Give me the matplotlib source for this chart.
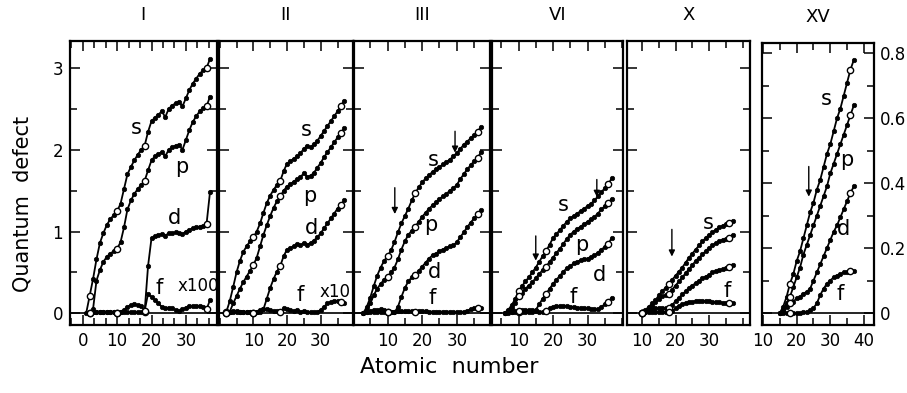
import matplotlib.pyplot as plt
from matplotlib.ticker import MultipleLocator, FixedLocator

# quantum defects vs atomic number Z; each series starts at the Z given by *_z0
# panel I (neutral), f is x100
I_s_z0 = 1
I_s = [0.00, 0.21, 0.42, 0.66, 0.86, 0.98, 1.08, 1.15, 1.20, 1.25, 1.34, 1.52, 1.70, 1.79,
       1.87, 1.94, 2.00, 2.05, 2.22, 2.35, 2.39, 2.43, 2.47, 2.40, 2.50, 2.54, 2.57, 2.59,
       2.53, 2.63, 2.73, 2.81, 2.87, 2.93, 2.97, 3.00, 3.11]
I_p_z0 = 3
I_p = [0.05, 0.40, 0.53, 0.63, 0.69, 0.73, 0.76, 0.79, 0.87, 1.05, 1.27, 1.38, 1.46, 1.52,
       1.57, 1.62, 1.75, 1.87, 1.92, 1.95, 1.97, 1.92, 2.00, 2.03, 2.05, 2.06, 2.00, 2.12,
       2.24, 2.34, 2.41, 2.47, 2.51, 2.53, 2.65]
I_d_z0 = 2
I_d = [0.00, 0.01, 0.01, 0.01, 0.01, 0.01, 0.01, 0.01, 0.00, 0.01, 0.01, 0.01, 0.01, 0.01,
       0.01, 0.01, 0.02, 0.58, 0.92, 0.94, 0.96, 0.97, 0.95, 0.98, 0.98, 0.99, 0.98, 0.97,
       1.00, 1.02, 1.04, 1.05, 1.06, 1.07, 1.09, 1.48]
I_f_z0 = 2
I_f = [0.00, 0.02, 0.02, 0.02, 0.02, 0.02, 0.01, 0.01, 0.00, 0.01, 0.04, 0.08, 0.10, 0.11,
       0.10, 0.09, 0.03, 0.24, 0.20, 0.16, 0.12, 0.08, 0.06, 0.07, 0.06, 0.04, 0.03, 0.05,
       0.07, 0.09, 0.09, 0.09, 0.09, 0.08, 0.05, 0.16]

# panel II, f is x10
II_s_z0 = 2
II_s = [0.02, 0.15, 0.32, 0.50, 0.64, 0.75, 0.82, 0.88, 0.93, 1.00, 1.10, 1.23, 1.35, 1.44,
        1.51, 1.57, 1.62, 1.74, 1.83, 1.86, 1.89, 1.92, 1.96, 2.01, 2.05, 2.03, 2.07, 2.11,
        2.17, 2.23, 2.29, 2.35, 2.41, 2.47, 2.54, 2.60]
II_p_z0 = 3
II_p = [0.02, 0.12, 0.21, 0.30, 0.38, 0.45, 0.52, 0.59, 0.68, 0.82, 0.96, 1.08, 1.19, 1.29,
        1.37, 1.43, 1.50, 1.55, 1.58, 1.61, 1.64, 1.67, 1.71, 1.67, 1.68, 1.72, 1.78, 1.84,
        1.91, 1.97, 2.03, 2.09, 2.15, 2.21, 2.26]
II_d_z0 = 2
II_d = [0.00, 0.01, 0.01, 0.01, 0.01, 0.01, 0.01, 0.01, 0.00, 0.01, 0.01, 0.05, 0.18, 0.31,
        0.42, 0.51, 0.58, 0.70, 0.78, 0.80, 0.82, 0.85, 0.83, 0.86, 0.84, 0.86, 0.89, 0.93,
        0.98, 1.04, 1.10, 1.16, 1.22, 1.28, 1.33, 1.38]
II_f_z0 = 2
II_f = [0.00, 0.02, 0.03, 0.03, 0.02, 0.02, 0.01, 0.01, 0.00, 0.02, 0.04, 0.05, 0.05, 0.04,
        0.03, 0.03, 0.02, 0.06, 0.05, 0.04, 0.03, 0.04, 0.02, 0.03, 0.02, 0.01, 0.01, 0.02,
        0.04, 0.08, 0.12, 0.14, 0.15, 0.15, 0.14, 0.13]

# panel III
III_s_z0 = 3
III_s = [0.00, 0.08, 0.19, 0.33, 0.46, 0.56, 0.64, 0.70, 0.77, 0.87, 0.99, 1.10, 1.19, 1.28,
         1.38, 1.47, 1.54, 1.60, 1.65, 1.69, 1.73, 1.76, 1.79, 1.82, 1.85, 1.88, 1.92, 1.96,
         2.01, 2.06, 2.10, 2.14, 2.18, 2.22, 2.28]
III_p_z0 = 4
III_p = [0.03, 0.12, 0.22, 0.30, 0.36, 0.41, 0.45, 0.50, 0.56, 0.66, 0.78, 0.88, 0.96, 1.01,
         1.06, 1.12, 1.18, 1.23, 1.28, 1.32, 1.36, 1.40, 1.43, 1.46, 1.50, 1.53, 1.57, 1.64,
         1.70, 1.76, 1.81, 1.86, 1.90, 1.97]
III_d_z0 = 3
III_d = [0.00, 0.01, 0.01, 0.01, 0.01, 0.01, 0.01, 0.01, 0.01, 0.01, 0.08, 0.20, 0.31, 0.39,
         0.44, 0.47, 0.52, 0.57, 0.62, 0.67, 0.71, 0.73, 0.76, 0.78, 0.80, 0.82, 0.83, 0.87,
         0.93, 0.99, 1.05, 1.11, 1.16, 1.21, 1.26]
III_f_z0 = 3
III_f = [0.00, 0.02, 0.03, 0.04, 0.04, 0.05, 0.04, 0.02, 0.02, 0.02, 0.03, 0.03, 0.03, 0.03,
         0.03, 0.02, 0.03, 0.03, 0.03, 0.02, 0.02, 0.02, 0.02, 0.02, 0.02, 0.02, 0.01, 0.01,
         0.01, 0.02, 0.03, 0.05, 0.06, 0.07, 0.07]

# panel VI
VI_s_z0 = 6
VI_s = [0.00, 0.04, 0.10, 0.17, 0.27, 0.33, 0.39, 0.44, 0.50, 0.56, 0.63, 0.70, 0.76, 0.84,
        0.92, 0.97, 1.02, 1.07, 1.12, 1.16, 1.19, 1.22, 1.25, 1.28, 1.31, 1.34, 1.38, 1.43,
        1.48, 1.53, 1.58, 1.65]
VI_p_z0 = 6
VI_p = [0.00, 0.03, 0.07, 0.12, 0.21, 0.25, 0.30, 0.34, 0.38, 0.43, 0.48, 0.53, 0.57, 0.63,
        0.68, 0.74, 0.79, 0.85, 0.91, 0.96, 1.00, 1.03, 1.06, 1.09, 1.12, 1.15, 1.18, 1.22,
        1.27, 1.31, 1.35, 1.40]
VI_d_z0 = 6
VI_d = [0.00, 0.00, 0.01, 0.01, 0.02, 0.02, 0.02, 0.02, 0.02, 0.04, 0.11, 0.18, 0.24, 0.30,
        0.36, 0.41, 0.46, 0.51, 0.55, 0.58, 0.61, 0.63, 0.65, 0.66, 0.67, 0.69, 0.71, 0.74,
        0.78, 0.81, 0.85, 0.92]
VI_f_z0 = 6
VI_f = [0.00, 0.01, 0.02, 0.03, 0.03, 0.04, 0.04, 0.04, 0.04, 0.03, 0.02, 0.02, 0.03, 0.06,
        0.08, 0.09, 0.09, 0.09, 0.09, 0.08, 0.08, 0.07, 0.07, 0.06, 0.06, 0.05, 0.05, 0.05,
        0.08, 0.11, 0.14, 0.19]

# panel X
X_s_z0 = 10
X_s = [0.00, 0.04, 0.08, 0.12, 0.16, 0.22, 0.27, 0.31, 0.36, 0.41, 0.46, 0.51, 0.56, 0.62,
       0.68, 0.73, 0.78, 0.83, 0.88, 0.92, 0.96, 0.99, 1.02, 1.05, 1.07, 1.09, 1.11, 1.13]
X_p_z0 = 10
X_p = [0.00, 0.03, 0.06, 0.10, 0.14, 0.18, 0.21, 0.22, 0.23, 0.29, 0.34, 0.39, 0.44, 0.49,
       0.54, 0.59, 0.64, 0.68, 0.72, 0.76, 0.80, 0.83, 0.86, 0.88, 0.90, 0.91, 0.92, 0.96]
X_d_z0 = 10
X_d = [0.00, 0.02, 0.04, 0.05, 0.06, 0.06, 0.06, 0.06, 0.06, 0.10, 0.15, 0.19, 0.23, 0.27,
       0.31, 0.34, 0.37, 0.40, 0.43, 0.45, 0.47, 0.50, 0.52, 0.53, 0.54, 0.55, 0.57, 0.59]
X_f_z0 = 10
X_f = [0.00, 0.01, 0.01, 0.02, 0.02, 0.02, 0.02, 0.01, 0.01, 0.03, 0.06, 0.09, 0.11, 0.13,
       0.14, 0.14, 0.15, 0.15, 0.15, 0.15, 0.15, 0.14, 0.14, 0.14, 0.13, 0.13, 0.13, 0.13]

# panel XV (own scale, right axis)
XV_s_z0 = 15
XV_s = [0.00, 0.02, 0.05, 0.09, 0.12, 0.16, 0.19, 0.23, 0.27, 0.31, 0.34, 0.38, 0.41, 0.45,
        0.49, 0.52, 0.56, 0.60, 0.63, 0.67, 0.71, 0.75, 0.78]
XV_p_z0 = 15
XV_p = [0.00, 0.01, 0.03, 0.05, 0.08, 0.11, 0.14, 0.18, 0.21, 0.24, 0.27, 0.30, 0.33, 0.36,
        0.39, 0.43, 0.46, 0.49, 0.52, 0.55, 0.58, 0.61, 0.64]
XV_d_z0 = 15
XV_d = [0.000, 0.010, 0.020, 0.030, 0.035, 0.045, 0.050, 0.060, 0.065, 0.075, 0.100, 0.125,
        0.150, 0.175, 0.200, 0.225, 0.250, 0.270, 0.295, 0.320, 0.345, 0.370, 0.390]
XV_f_z0 = 15
XV_f = [0.000, 0.000, 0.000, 0.000, 0.000, 0.000, 0.000, 0.002, 0.004, 0.008, 0.015, 0.030,
        0.055, 0.075, 0.090, 0.100, 0.110, 0.115, 0.120, 0.125, 0.127, 0.128, 0.128]

# closed-shell Z drawn as open circles
open_z = [2, 10, 18, 36]

titles = ["I", "II", "III", "VI", "X", "XV"]
xtick_labels = [[0, 10, 20, 30], [10, 20, 30], [10, 20, 30], [10, 20, 30], [10, 20, 30],
                [10, 20, 30, 40]]
# minor x tick step per panel (panel I is ruled in thirds of ten)
xminor = [10 / 3, 5, 5, 5, 5, 5]
# arrows: (Z, tail, tip)
arrows = {2: [(12.1, 1.57, 1.18), (29.5, 2.26, 1.93)],
          3: [(15.0, 0.98, 0.61), (32.7, 1.67, 1.39)],
          4: [(18.9, 1.06, 0.66)],
          5: [(23.6, 0.46, 0.35)]}

W, H = 907, 393
fig = plt.figure(figsize=(W / 100, H / 100), dpi=100)

# panel boxes in pixels (left, right, top, bottom) and x limits
boxes = [(70, 216.5, 41, 325), (219, 352.7, 41, 325), (354.3, 490, 41, 325),
         (492.3, 622.7, 41, 325), (627.3, 750, 41, 325), (761.7, 874, 42.7, 325)]
xlims = [(-3.7, 38.9), (-0.2, 39.5), (0.4, 39.6), (2.4, 40.2), (5.6, 42.2), (9.6, 43.0)]

series = [
    [(I_s_z0, I_s), (I_p_z0, I_p), (I_d_z0, I_d), (I_f_z0, I_f)],
    [(II_s_z0, II_s), (II_p_z0, II_p), (II_d_z0, II_d), (II_f_z0, II_f)],
    [(III_s_z0, III_s), (III_p_z0, III_p), (III_d_z0, III_d), (III_f_z0, III_f)],
    [(VI_s_z0, VI_s), (VI_p_z0, VI_p), (VI_d_z0, VI_d), (VI_f_z0, VI_f)],
    [(X_s_z0, X_s), (X_p_z0, X_p), (X_d_z0, X_d), (X_f_z0, X_f)],
    [(XV_s_z0, XV_s), (XV_p_z0, XV_p), (XV_d_z0, XV_d), (XV_f_z0, XV_f)],
]

# curve letters (Z, y, text) per panel
letters = [
    [(15.7, 2.26, "s"), (28.8, 1.79, "p"), (26.8, 1.16, "d"), (22.3, 0.31, "f")],
    [(25.8, 2.24, "s"), (26.6, 1.43, "p"), (27.3, 1.04, "d"), (23.9, 0.22, "f")],
    [(23.2, 1.87, "s"), (22.5, 1.08, "p"), (23.7, 0.51, "d"), (22.9, 0.19, "f")],
    [(23.0, 1.32, "s"), (28.3, 0.83, "p"), (33.6, 0.47, "d"), (25.9, 0.20, "f")],
    [(29.8, 1.10, "s"), (35.5, 0.27, "f")],
    [(28.8, 0.66, "s"), (35.0, 0.47, "p"), (34.0, 0.26, "d"), (32.8, 0.06, "f")],
]
scale_notes = {0: (33.6, 0.34, "x100"), 1: (34.2, 0.26, "x10")}

for i, (l, r, t, b) in enumerate(boxes):
    ax = fig.add_axes([l / W, 1 - b / H, (r - l) / W, (b - t) / H])
    ax.set_xlim(xlims[i])
    if i < 5:
        ax.set_ylim(-0.143, 3.33)
        ax.yaxis.set_major_locator(FixedLocator([0, 1, 2, 3]))
        ax.yaxis.set_minor_locator(MultipleLocator(0.5))
    else:
        ax.set_ylim(-0.037, 0.833)
        ax.yaxis.set_major_locator(FixedLocator([0, 0.2, 0.4, 0.6, 0.8]))
        ax.yaxis.set_minor_locator(MultipleLocator(0.1))
    ax.xaxis.set_major_locator(FixedLocator(xtick_labels[i]))
    ax.xaxis.set_minor_locator(MultipleLocator(xminor[i]))
    ax.tick_params(which="both", direction="in", top=True, right=True, width=1.1,
                   labelsize=12, pad=5)
    ax.tick_params(which="major", length=7)
    ax.tick_params(which="minor", length=5)
    ax.set_xticklabels([str(v) for v in xtick_labels[i]])
    if i == 0:
        ax.set_yticklabels(["0", "1", "2", "3"])
    elif i == 5:
        ax.yaxis.tick_right()
        ax.yaxis.set_ticks_position("both")
        ax.tick_params(axis="y", which="both", direction="in", labelright=True,
                       labelleft=False, pad=4)
        ax.set_yticklabels(["0", "0.2", "0.4", "0.6", "0.8"])
    else:
        ax.set_yticklabels([])
    for sp in ax.spines.values():
        sp.set_linewidth(1.6)
    ax.axhline(0, color="k", lw=1.2, zorder=2)

    for z0, vals in series[i]:
        z = list(range(z0, z0 + len(vals)))
        ax.plot(z, vals, "-o", color="k", lw=1.3, ms=3.2, mew=0.5, zorder=3,
                clip_on=False)
        oz = [v for v in open_z if z0 <= v < z0 + len(vals)]
        ax.plot(oz, [vals[v - z0] for v in oz], "o", ms=4.5, mfc="white", mec="k",
                mew=1.0, zorder=4)

    for zx, yy, txt in letters[i]:
        ax.text(zx, yy, txt, fontsize=15, ha="center", va="center")
    if i in scale_notes:
        zx, yy, txt = scale_notes[i]
        ax.text(zx, yy, txt, fontsize=12, ha="center", va="center")
    for zx, tail, tip in arrows.get(i, []):
        ax.annotate("", xy=(zx, tip), xytext=(zx, tail),
                    arrowprops=dict(arrowstyle="-|>", color="k", lw=1.0,
                                    mutation_scale=9))
    ax.text(0.5, 1 + 26 / (b - t), titles[i], transform=ax.transAxes, fontsize=13,
            ha="center", va="center")

fig.text(23 / W, 1 - 204 / H, "Quantum  defect", rotation=90, fontsize=15,
         ha="center", va="center")
fig.text(449 / W, 1 - 367 / H, "Atomic  number", fontsize=16, ha="center",
         va="center")

fig.savefig("out.png", dpi=100)
